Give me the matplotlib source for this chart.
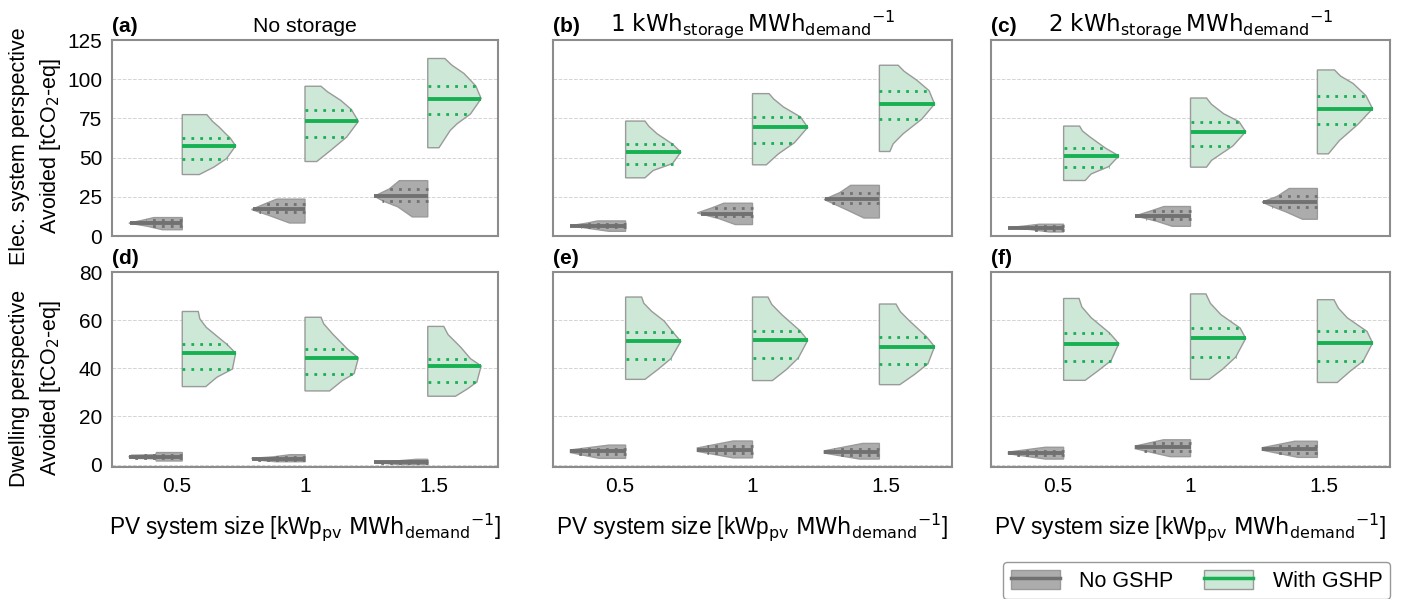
import numpy as np
import matplotlib
matplotlib.use("Agg")
import matplotlib.pyplot as plt
from matplotlib.patches import Patch
from matplotlib.lines import Line2D

plt.rcParams['font.family'] = ['Liberation Sans', 'DejaVu Sans']
plt.rcParams['mathtext.fontset'] = 'dejavusans'
plt.rcParams['font.size'] = 15.5

# categories / labels
pv_sizes = ['0.5', '1', '1.5']
storage_titles = ['No storage',
                  r'$\mathrm{1\ kWh_{storage}\,MWh_{demand}}^{-1}$',
                  r'$\mathrm{2\ kWh_{storage}\,MWh_{demand}}^{-1}$']
panel_letters = ['(a)', '(b)', '(c)', '(d)', '(e)', '(f)']
row_labels = ['Elec. system perspective', 'Dwelling perspective']

# violin outlines: (value, relative half-width), bottom -> top
# "With GSHP" (green, right halves)
green_a = [[(39.2, .32), (43.9, .59), (49.4, .83), (57.5, 1.0), (62.4, .9), (65, .82), (69.5, .69), (73, .57), (77.4, .46)],
           [(47.5, .22), (54.6, .48), (63.1, .78), (73.1, 1.0), (80.6, .87), (86.5, .67), (92, .42), (95.5, .30)],
           [(56.3, .21), (67.3, .42), (71.6, .55), (77.8, .8), (87.6, 1.0), (95.7, .9), (103.6, .68), (109, .45), (113.2, .32)]]
green_b = [[(37.1, .35), (41.8, .5), (46.2, .85), (53.5, 1.0), (58.6, .85), (65.2, .57), (70, .42), (73.3, .35)],
           [(45.4, .25), (52.4, .47), (59.5, .76), (69.3, 1.0), (75.9, .87), (82.3, .56), (87.5, .38), (90.8, .30)],
           [(53.9, .19), (58.8, .25), (65.2, .43), (74.6, .77), (84.2, 1.0), (92.7, .9), (99.3, .68), (105, .45), (108.9, .34)]]
green_c = [[(35.4, .39), (39.6, .5), (44.3, .82), (51.1, 1.0), (56.0, .76), (63.1, .48), (67, .34), (70.1, .29)],
           [(43.9, .29), (48.2, .38), (57.5, .77), (66.5, 1.0), (72.9, .88), (78.0, .6), (84, .38), (88.0, .29)],
           [(52.4, .2), (60.9, .4), (71.4, .74), (81.2, 1.0), (89.5, .88), (97.2, .65), (102, .42), (105.9, .31)]]
green_d = [[(32.4, .44), (36.3, .65), (39.7, .94), (46.3, 1.0), (49.9, .84), (52.8, .68), (57.0, .45), (60.5, .33), (63.6, .30)],
           [(30.6, .46), (34.9, .7), (37.8, .92), (44.3, 1.0), (47.9, .8), (54.2, .52), (58.5, .35), (61.2, .30)],
           [(28.4, .52), (31.4, .74), (34.3, .92), (41.0, 1.0), (44.0, .8), (48.7, .62), (54, .38), (57.4, .30)]]
green_e = [[(35.4, .35), (39.6, .59), (44.0, .82), (51.2, 1.0), (55.2, .85), (59.6, .7), (63.7, .47), (67, .33), (69.6, .29)],
           [(34.9, .36), (39.6, .62), (44.3, .83), (51.6, 1.0), (55.6, .86), (62.3, .53), (66.5, .35), (69.6, .28)],
           [(33.2, .37), (37.5, .64), (41.9, .88), (49.0, 1.0), (53.2, .85), (59.6, .55), (63.5, .38), (66.7, .30)]]
green_f = [[(35.0, .39), (38.9, .62), (43.2, .86), (50.3, 1.0), (54.7, .83), (61.0, .5), (65.5, .33), (69.0, .28)],
           [(35.4, .34), (39.6, .58), (44.7, .82), (52.4, 1.0), (56.7, .9), (62.3, .55), (67, .36), (70.9, .28)],
           [(34.1, .36), (38.9, .6), (43.0, .83), (50.5, 1.0), (55.3, .9), (61.0, .54), (65, .38), (68.5, .30)]]

# "No GSHP" (grey, left halves)
gray_a = [[(4.0, .37), (6.2, .65), (8.2, 1.0), (10, .75), (11.75, .53)],
          [(8.3, .29), (13.2, .68), (16.9, 1.0), (20.5, .75), (23.5, .53)],
          [(12.2, .29), (18.6, .56), (22.2, .83), (25.4, 1.0), (30, .72), (35.3, .53)]]
gray_b = [[(3.0, .30), (5.0, .7), (6.6, 1.0), (8.2, .7), (9.6, .51)],
          [(7.3, .31), (11, .6), (14.7, 1.0), (18, .73), (20.9, .52)],
          [(11.5, .28), (16.5, .58), (20.9, .85), (23.3, 1.0), (27.6, .72), (32.3, .52)]]
gray_c = [[(2.6, .26), (4.1, .6), (5.3, 1.0), (6.6, .65), (7.5, .44)],
          [(6.2, .33), (9.5, .62), (12.8, 1.0), (16.2, .7), (18.8, .48)],
          [(10.7, .27), (15.4, .57), (18.8, .82), (21.6, 1.0), (25.2, .73), (30.3, .51)]]
gray_d = [[(1.5, .49), (2.4, .49), (2.6, .95), (3.3, 1.0), (3.9, .95), (4.1, .5), (5.0, .48)],
          [(1.2, .55), (2.0, .95), (2.6, 1.0), (3.2, .6), (4.1, .28)],
          [(0.0, .5), (0.7, .95), (1.1, 1.0), (1.5, .6), (2.2, .21)]]
gray_e = [[(2.6, .48), (5.0, 1.0), (6.1, 1.0), (8.1, .30)],
          [(2.8, .35), (5.5, 1.0), (6.9, 1.0), (9.8, .35)],
          [(2.3, .36), (4.8, 1.0), (5.7, 1.0), (8.8, .30)]]
gray_f = [[(2.3, .33), (4.5, 1.0), (5.2, 1.0), (7.2, .33)],
          [(3.3, .37), (6.6, 1.0), (7.7, 1.0), (10.3, .49)],
          [(3.0, .35), (6.0, 1.0), (7.0, 1.0), (9.7, .41)]]

# quartiles (q1, median, q3)
green_q = [[(49.4, 57.5, 62.4), (63.1, 73.1, 80.6), (77.8, 87.6, 95.7)],
           [(46.2, 53.5, 58.6), (59.5, 69.3, 75.9), (74.6, 84.2, 92.7)],
           [(44.3, 51.1, 56.0), (57.5, 66.5, 72.9), (71.4, 81.2, 89.5)],
           [(39.7, 46.3, 49.9), (37.8, 44.3, 47.9), (34.3, 41.0, 44.0)],
           [(44.0, 51.2, 55.2), (44.3, 51.6, 55.6), (41.9, 49.0, 53.2)],
           [(43.2, 50.3, 54.7), (44.7, 52.4, 56.7), (43.0, 50.5, 55.3)]]
gray_q = [[(6.2, 8.1, 10.5), (15.4, 17.3, 20.1), (22.6, 25.4, 29.9)],
          [(5.6, 6.6, 7.9), (12.8, 14.1, 18.0), (20.9, 23.5, 27.6)],
          [(4.1, 5.3, 6.6), (11.1, 12.8, 16.2), (18.8, 21.8, 25.2)],
          [(2.6, 3.2, 4.0), (2.0, 2.5, 3.2), (0.6, 1.1, 1.6)],
          [(4.4, 5.5, 6.6), (4.8, 6.2, 7.7), (4.0, 5.2, 6.5)],
          [(4.1, 4.8, 5.8), (5.8, 7.2, 8.8), (5.0, 6.5, 7.9)]]

green_all = [green_a, green_b, green_c, green_d, green_e, green_f]
gray_all = [gray_a, gray_b, gray_c, gray_d, gray_e, gray_f]

GREEN_FILL = '#cde8d6'
GREEN_LINE = '#17b053'
GRAY_FILL = '#acacac'
GRAY_LINE = '#717171'
EDGE = '#9a9a9a'
HALF = 0.415


def half_violin(ax, pos, profile, quart, side, face, line_col):
    ys = np.array([p[0] for p in profile])
    ws = np.array([p[1] for p in profile]) * HALF
    px = np.concatenate([[pos], pos + side * ws, [pos]])
    py = np.concatenate([[ys[0]], ys, [ys[-1]]])
    ax.fill(px, py, facecolor=face, edgecolor=EDGE, lw=1, zorder=2)
    for q, ls, lw in zip(quart, [(0, (1, 2.2)), '-', (0, (1, 2.2))], [2.0, 2.8, 2.0]):
        w = np.interp(q, ys, ws)
        ax.plot([pos, pos + side * w], [q, q], color=line_col, lw=lw, ls=ls,
                solid_capstyle='butt', dash_capstyle='butt', zorder=3)


fig = plt.figure(figsize=(14.01, 5.99), dpi=100)
W, H = 1401, 599
lefts = [112, 553, 991]
widths = [386, 399, 399]
tops = [40, 272]
heights = [196, 195]
ylims = [(0, 125), (-1, 80)]
yticks = [[0, 25, 50, 75, 100, 125], [0, 20, 40, 60, 80]]

for r in range(2):
    for c in range(3):
        k = r * 3 + c
        ax = fig.add_axes([lefts[c] / W, 1 - (tops[r] + heights[r]) / H,
                           widths[c] / W, heights[r] / H])
        for i in range(3):
            pos = 1 + (i - 1) * 0.954
            half_violin(ax, pos, gray_all[k][i], gray_q[k][i], -1, GRAY_FILL, GRAY_LINE)
            half_violin(ax, pos, green_all[k][i], green_q[k][i], 1, GREEN_FILL, GREEN_LINE)
        ax.set_xlim(-0.5, 2.5)
        ax.set_ylim(*ylims[r])
        ax.set_yticks(yticks[r])
        ax.set_xticks([0, 1, 2])
        ax.yaxis.grid(True, ls='--', color='#d4d4d4', lw=0.7, zorder=0)
        ax.set_axisbelow(True)
        ax.tick_params(length=0, pad=7, labelsize=15)
        for s in ax.spines.values():
            s.set_color('#8c8c8c')
            s.set_linewidth(1.5)
        if c > 0:
            ax.set_yticklabels([])
        if r == 0:
            ax.set_xticklabels([])
            fs = 15.3 if c == 0 else 16.5
            ax.text(0.5, 1 + 8.5 / heights[r], storage_titles[c], transform=ax.transAxes,
                    ha='center', va='baseline', fontsize=fs)
        else:
            ax.set_xticklabels(pv_sizes)
            ax.set_xlabel(r'PV system size [kWp$_{\mathrm{pv}}$ $\mathrm{MWh_{demand}}^{-1}$]',
                          fontsize=16.3, labelpad=11)
        ax.text(0, 1 + 8.5 / heights[r], panel_letters[k], transform=ax.transAxes,
                ha='left', va='baseline', fontsize=15, fontweight='bold')

# row labels
for r, yc in enumerate([146, 388]):
    fig.text(20 / W, 1 - yc / H, row_labels[r], rotation=90, ha='center', va='center', fontsize=15.5)
    fig.text(51 / W, 1 - yc / H, r'Avoided [tCO$_2$-eq]', rotation=90, ha='center', va='center', fontsize=15.5)

handles = [(Patch(facecolor=GRAY_FILL, edgecolor=EDGE), Line2D([], [], color=GRAY_LINE, lw=2.5)),
           (Patch(facecolor=GREEN_FILL, edgecolor=EDGE), Line2D([], [], color=GREEN_LINE, lw=2.5))]
fig.legend(handles, ['No GSHP', 'With GSHP'], ncol=2, loc='upper right',
           bbox_to_anchor=(1390 / W, 1 - 562 / H), borderaxespad=0, fontsize=15.5,
           handlelength=2.3, handleheight=1.0, handletextpad=0.9, columnspacing=1.4,
           borderpad=0.35, edgecolor='#999999', fancybox=True, framealpha=1)

fig.savefig('out.png', dpi=100)
